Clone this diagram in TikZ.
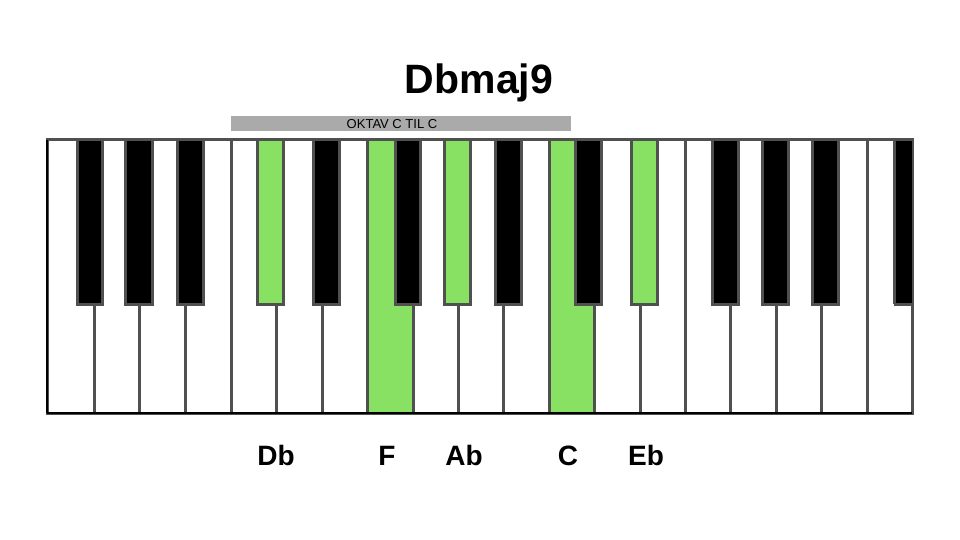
\documentclass[tikz,border=0pt]{standalone}
\usepackage{fontspec}
\setmainfont{Liberation Sans}
\definecolor{keygreen}{RGB}{136,225,98}
\definecolor{keyline}{RGB}{80,80,80}
\definecolor{barGray}{RGB}{170,170,170}
\tikzset{
  whitekey/.style={fill=white,draw=keyline,line width=3pt},
  whitegreen/.style={fill=keygreen,draw=keyline,line width=3pt},
  blackkey/.style={fill=black,draw=keyline,line width=3pt},
  blackgreen/.style={fill=keygreen,draw=keyline,line width=3pt},
  notelabel/.style={font=\fontsize{28}{32}\selectfont\bfseries,anchor=base,inner sep=0pt},
}
\begin{document}
\begin{tikzpicture}[x=1pt,y=-1pt]
\useasboundingbox (0,0) rectangle (960,540);
\fill[white] (0,0) rectangle (960,540);
% title
\node[font=\fontsize{41}{46}\selectfont\bfseries,inner sep=0pt,anchor=base] (title) at (479,94) {Dbmaj9};
% octave bar
\fill[barGray] (231,116) rectangle (571,131);
\node[font=\fontsize{13}{15}\selectfont,inner sep=0pt,anchor=base] (oktav) at (392,128.5) {OKTAV C TIL C};
% white keys
\foreach \a/\b/\s in {47/94/whitekey,94/139/whitekey,139/185/whitekey,185/231/whitekey,
  231/276/whitekey,276/322/whitekey,322/367/whitekey,367/413/whitegreen,413/458/whitekey,
  458/503/whitekey,503/549/whitekey,549/594/whitegreen,594/640/whitekey,640/685/whitekey,
  685/730/whitekey,730/776/whitekey,776/821/whitekey,821/867/whitekey,867/912/whitekey}
  \path[\s] (\a,140) rectangle (\b,413);
% black keys
\foreach \a/\b/\s in {77/102/blackkey,125/152/blackkey,177/203/blackkey,
  257/283/blackgreen,313/339/blackkey,395/420/blackkey,444/470/blackgreen,495/521/blackkey,
  575/601/blackkey,631/657/blackgreen,712/738/blackkey,762/788/blackkey,812/838/blackkey}
  \path[\s] (\a,140) rectangle (\b,304);
\fill[black] (894,140) rectangle (912,304);
\draw[keyline,line width=3pt] (894,304) -- (894,140);
\draw[keyline,line width=3pt] (894,304) -- (912,304);
% outer frame
\draw[keyline,line width=1.5pt] (47,140) -- (912,140);
\draw[black,line width=2.5pt] (47,413) -- (912,413);
\draw[black,line width=2.5pt] (47,140) -- (47,413);
% labels
\node[notelabel] (db) at (276,465) {Db};
\node[notelabel] (f) at (387,465) {F};
\node[notelabel] (ab) at (464,465) {Ab};
\node[notelabel] (c) at (568,465) {C};
\node[notelabel] (eb) at (646,465) {Eb};
\end{tikzpicture}
\end{document}
